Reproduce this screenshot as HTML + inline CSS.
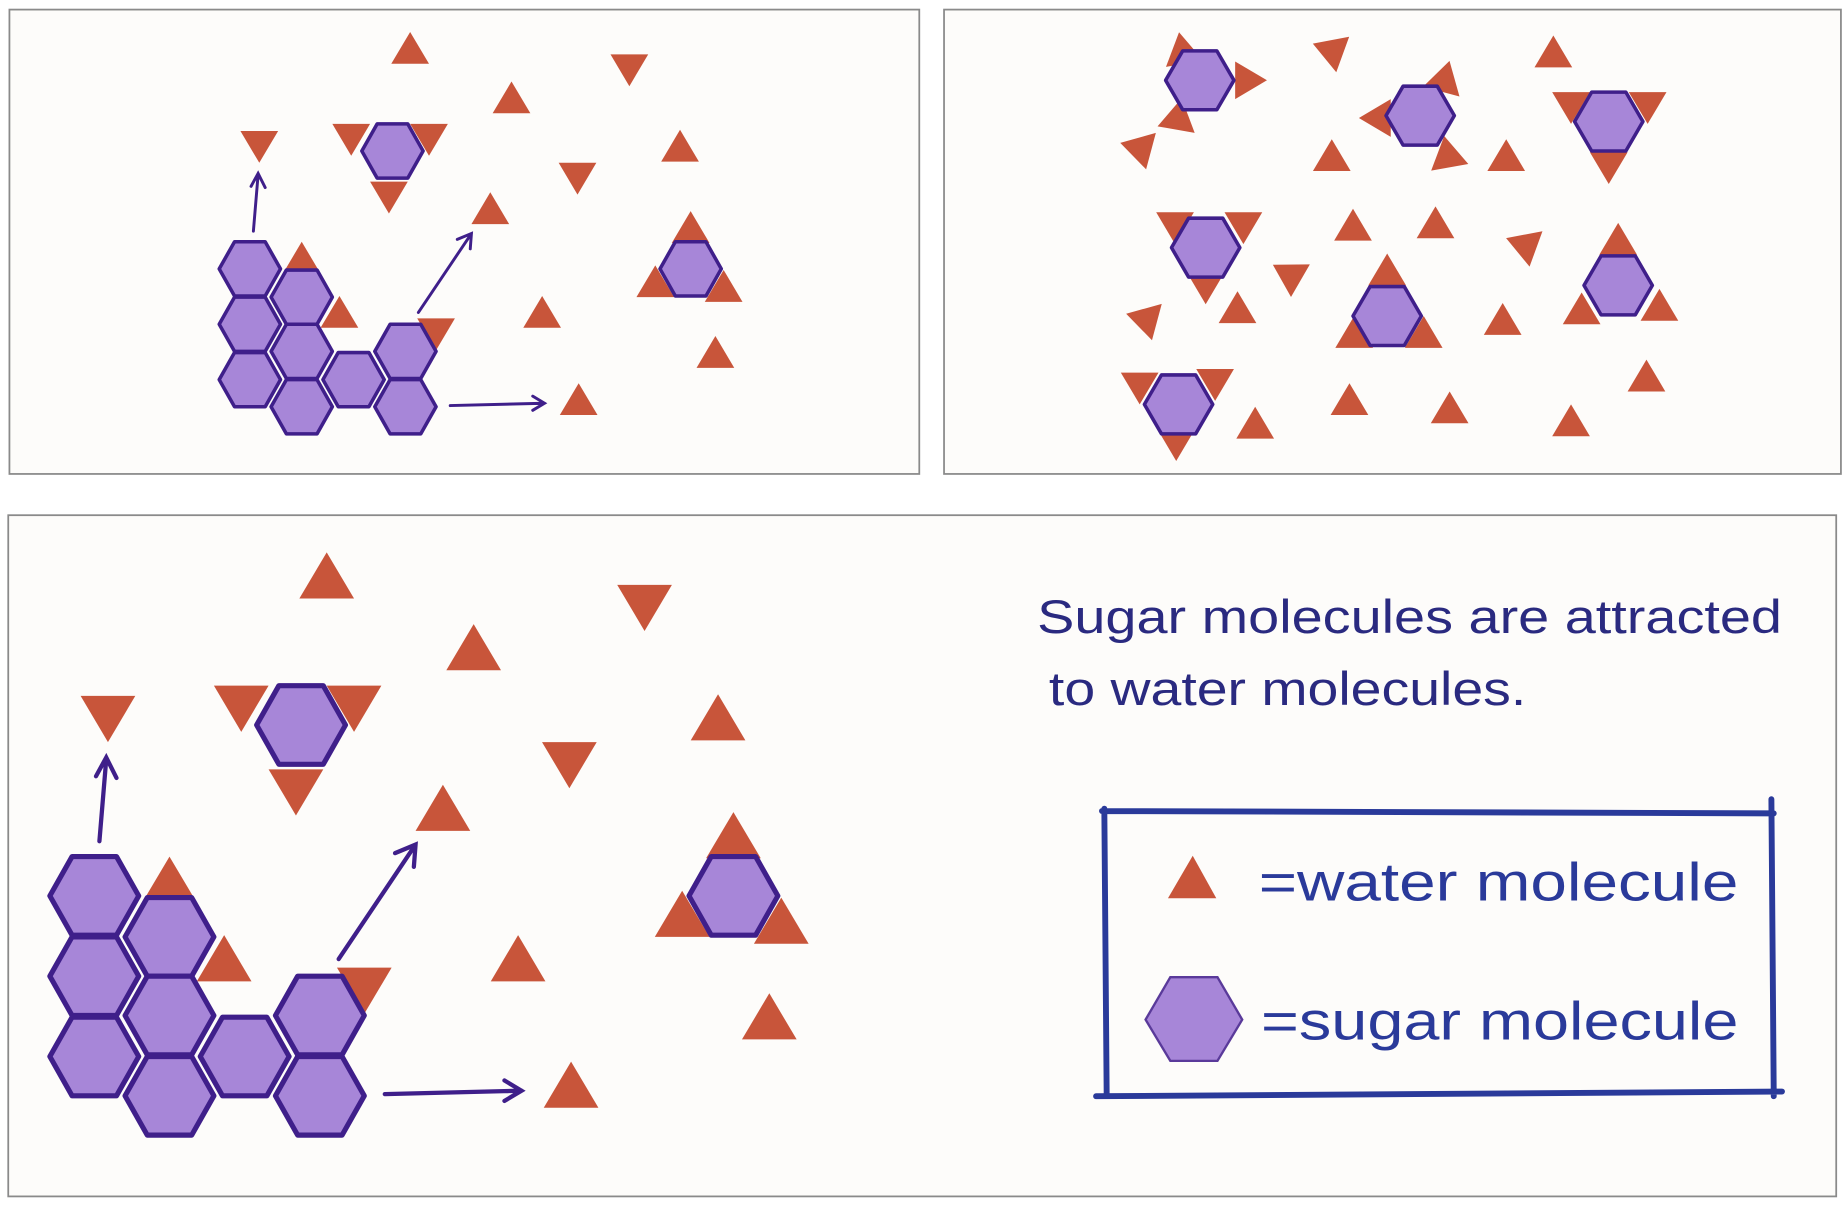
<!DOCTYPE html>
<html><head><meta charset="utf-8"><style>
html,body{margin:0;padding:0;background:#fff;}
svg{display:block;}
</style></head><body>
<svg width="1848" height="1206" viewBox="0 0 1568 1023" xmlns="http://www.w3.org/2000/svg">
<defs>
<polygon id="tu" points="0,-15 16,12 -16,12" fill="#c8553a"/>
<polygon id="td" points="0,15 16,-12 -16,-12" fill="#c8553a"/>
<polygon id="hx" points="-26,0 -13,-23 13,-23 26,0 13,23 -13,23" fill="#a786d8" stroke="#3f1f8a" stroke-width="3" stroke-linejoin="round"/>
<polygon id="hx2" points="-29,0 -14.5,-25 14.5,-25 29,0 14.5,25 -14.5,25" fill="#a786d8" stroke="#3f1f8a" stroke-width="3" stroke-linejoin="round"/>
<g id="scene">
  <use href="#tu" x="348" y="42"/>
  <use href="#tu" x="434" y="84"/>
  <use href="#td" x="534" y="58"/>
  <use href="#td" x="220" y="123"/>
  <use href="#tu" x="577" y="125"/>
  <use href="#td" x="490" y="150"/>
  <use href="#tu" x="416" y="178"/>
  <use href="#tu" x="460" y="266"/>
  <use href="#tu" x="607" y="300"/>
  <use href="#tu" x="491" y="340"/>
  <use href="#td" x="298" y="117"/>
  <use href="#td" x="364" y="117"/>
  <use href="#td" x="330" y="166"/>
  <use href="#hx" x="333" y="128"/>
  <use href="#tu" x="586" y="194"/>
  <use href="#tu" x="556" y="240"/>
  <use href="#tu" x="614" y="244"/>
  <use href="#hx" x="586" y="228"/>
  <use href="#tu" x="256" y="220"/>
  <use href="#tu" x="288" y="266"/>
  <use href="#td" x="370" y="282"/>
  <use href="#hx" x="212" y="228"/>
  <use href="#hx" x="212" y="275"/>
  <use href="#hx" x="212" y="322"/>
  <use href="#hx" x="256" y="252"/>
  <use href="#hx" x="256" y="298"/>
  <use href="#hx" x="256" y="345"/>
  <use href="#hx" x="300" y="322"/>
  <use href="#hx" x="344" y="298"/>
  <use href="#hx" x="344" y="345"/>
  <g stroke="#3f1f8a" stroke-width="2.5" fill="none" stroke-linecap="round">
    <path d="M215,196 L219,148 M213,158 L219,147 L225,159"/>
    <path d="M355,265 L400,198 M388,203 L400,198 L399,211"/>
    <path d="M382,344 L462,342 M452,336 L462,342 L452,348"/>
  </g>
</g>
</defs>
<rect x="0" y="0" width="1568" height="1023" fill="#ffffff"/>
<rect x="8" y="8" width="772" height="394" fill="#fdfcfa" stroke="#8a8a8a" stroke-width="1.5"/>
<rect x="801" y="8" width="761" height="394" fill="#fdfcfa" stroke="#8a8a8a" stroke-width="1.5"/>
<rect x="7" y="437" width="1551" height="578" fill="#fdfcfa" stroke="#8a8a8a" stroke-width="1.5"/>

<use href="#scene"/>
<use href="#scene" transform="translate(-227.4,429.4) scale(1.45)"/>

<g>
  <use href="#tu" transform="translate(1003 42) rotate(-10)"/><use href="#tu" transform="translate(1060 68) rotate(90)"/><use href="#tu" transform="translate(1000 98) rotate(10)"/>
  <use href="#hx2" x="1018" y="68"/>
  <use href="#tu" transform="translate(1226 66) rotate(15)"/><use href="#tu" transform="translate(1168 100) rotate(-90)"/><use href="#tu" transform="translate(1228 130) rotate(-10)"/>
  <use href="#hx2" x="1205" y="98"/>
  <use href="#td" x="1333" y="90"/><use href="#td" x="1398" y="90"/><use href="#td" x="1365" y="141"/>
  <use href="#hx2" x="1365" y="103"/>
  <use href="#td" x="997" y="192"/><use href="#td" x="1055" y="192"/><use href="#td" x="1023" y="243"/>
  <use href="#hx2" x="1023" y="210"/>
  <use href="#tu" x="1177" y="230"/><use href="#tu" x="1149" y="283"/><use href="#tu" x="1208" y="283"/>
  <use href="#hx2" x="1177" y="268"/>
  <use href="#tu" x="1373" y="204"/><use href="#tu" x="1342" y="263"/><use href="#tu" x="1408" y="260"/>
  <use href="#hx2" x="1373" y="242"/>
  <use href="#td" x="967" y="328"/><use href="#td" x="1031" y="325"/><use href="#td" x="998" y="376"/>
  <use href="#hx2" x="1000" y="343"/>
  <use href="#tu" transform="translate(1128 42) rotate(-70)"/><use href="#tu" x="1318" y="45"/>
  <use href="#tu" transform="translate(965 125) rotate(-75)"/><use href="#tu" x="1130" y="133"/>
  <use href="#tu" x="1278" y="133"/><use href="#tu" x="1148" y="192"/><use href="#tu" x="1218" y="190"/>
  <use href="#tu" transform="translate(1093 232) rotate(-60)"/><use href="#tu" transform="translate(1292 207) rotate(-70)"/>
  <use href="#tu" x="1050" y="262"/><use href="#tu" transform="translate(970 270) rotate(-75)"/>
  <use href="#tu" x="1275" y="272"/><use href="#tu" x="1145" y="340"/><use href="#tu" x="1230" y="347"/>
  <use href="#tu" x="1333" y="358"/><use href="#tu" x="1397" y="320"/><use href="#tu" x="1065" y="360"/>
</g>

<g font-family="Liberation Sans, sans-serif" fill="#2a2a80">
  <text x="880" y="537" font-size="40" textLength="632" lengthAdjust="spacingAndGlyphs">Sugar molecules are attracted</text>
  <text x="890" y="598" font-size="40" textLength="405" lengthAdjust="spacingAndGlyphs">to water molecules.</text>
</g>
<path d="M935,688 L1505,690 M937,686 L939,930 M1503,678 L1505,930 M930,930 L1512,926" stroke="#2a3a9a" stroke-width="5" fill="none" stroke-linecap="round"/>
<polygon points="1012,726 1032,762 991,762" fill="#c8553a"/>
<polygon points="972,865 993,829 1033,829 1054,865 1033,900 993,900" fill="#a786d8" stroke="#5a3a9a" stroke-width="2"/>
<g font-family="Liberation Sans, sans-serif" fill="#2a3a9a" font-size="46">
  <text x="1068" y="764" textLength="407" lengthAdjust="spacingAndGlyphs">=water molecule</text>
  <text x="1070" y="882" textLength="405" lengthAdjust="spacingAndGlyphs">=sugar molecule</text>
</g>
</svg>
</body></html>
